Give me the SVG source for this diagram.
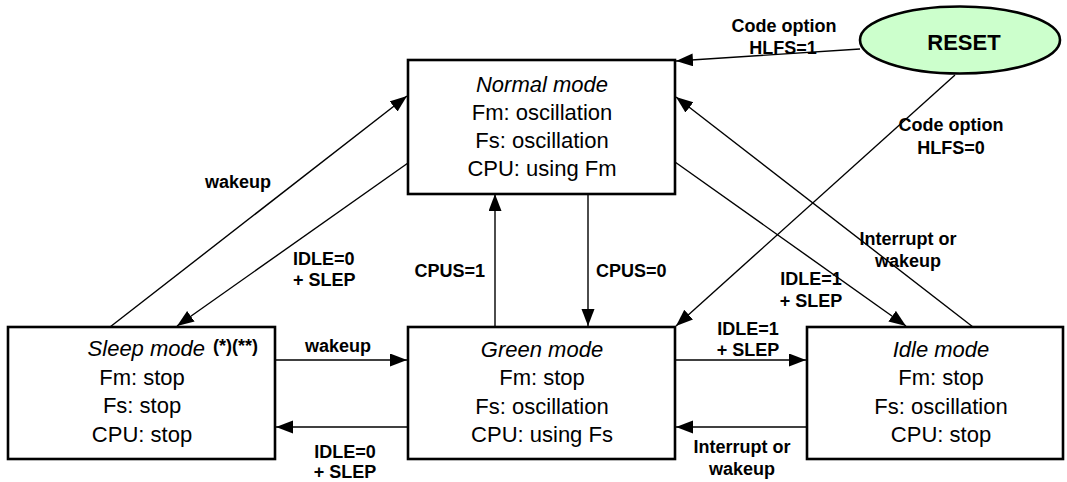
<svg xmlns="http://www.w3.org/2000/svg" width="1067" height="482" viewBox="0 0 1067 482">
<style>
  .box { fill: #ffffff; stroke: #000000; stroke-width: 2.6; }
  .title { font-family: "Liberation Sans", Arial, sans-serif; font-size: 22px; font-style: italic; text-anchor: middle; fill: #000; }
  .body { font-family: "Liberation Sans", Arial, sans-serif; font-size: 22px; text-anchor: middle; fill: #000; }
  .lbl { font-family: "Liberation Sans", Arial, sans-serif; font-size: 18px; font-weight: bold; fill: #000; }
  .mid { text-anchor: middle; }
  .conn { stroke: #000; stroke-width: 1.4; fill: none; marker-end: url(#arr); }
</style>
<defs>
  <marker id="arr" markerUnits="userSpaceOnUse" markerWidth="18" markerHeight="14" refX="17" refY="6.5" orient="auto">
    <path d="M0,0 L17,6.5 L0,13 z" fill="#000"/>
  </marker>
</defs>
<rect width="1067" height="482" fill="#ffffff"/>

<g id="connectors">
  <line class="conn" x1="860" y1="49" x2="676" y2="61"/>
  <line class="conn" x1="955" y1="75" x2="676" y2="326"/>
  <line class="conn" x1="973" y1="327" x2="676" y2="97"/>
  <line class="conn" x1="675" y1="162" x2="906" y2="326"/>
  <line class="conn" x1="588" y1="194" x2="588" y2="326"/>
  <line class="conn" x1="495" y1="327" x2="495" y2="194"/>
  <line class="conn" x1="110" y1="327" x2="407" y2="96"/>
  <line class="conn" x1="408" y1="163" x2="177" y2="326"/>
  <line class="conn" x1="275" y1="360" x2="407" y2="360"/>
  <line class="conn" x1="408" y1="427" x2="276" y2="427"/>
  <line class="conn" x1="675" y1="360" x2="806" y2="360"/>
  <line class="conn" x1="807" y1="427" x2="676" y2="427"/>
</g>

<g id="labels">
  <text class="lbl mid" x="784" y="32">Code option</text>
  <text class="lbl mid" x="783" y="54">HLFS=1</text>
  <text class="lbl mid" x="951" y="131">Code option</text>
  <text class="lbl mid" x="951" y="154">HLFS=0</text>
  <text class="lbl mid" x="238" y="188">wakeup</text>
  <text class="lbl" x="293" y="265">IDLE=0</text>
  <text class="lbl" x="293" y="286">+ SLEP</text>
  <text class="lbl" x="485" y="277" text-anchor="end">CPUS=1</text>
  <text class="lbl" x="596" y="277">CPUS=0</text>
  <text class="lbl mid" x="908" y="245">Interrupt or</text>
  <text class="lbl mid" x="908" y="267">wakeup</text>
  <text class="lbl mid" x="811" y="285">IDLE=1</text>
  <text class="lbl mid" x="811" y="307">+ SLEP</text>
  <text class="lbl mid" x="338" y="352">wakeup</text>
  <text class="lbl mid" x="345" y="458">IDLE=0</text>
  <text class="lbl mid" x="345" y="478">+ SLEP</text>
  <text class="lbl mid" x="748" y="335">IDLE=1</text>
  <text class="lbl mid" x="748" y="356">+ SLEP</text>
  <text class="lbl mid" x="742" y="453">Interrupt or</text>
  <text class="lbl mid" x="742" y="475">wakeup</text>
</g>

<g id="reset">
  <ellipse cx="960" cy="40" rx="100" ry="33.5" fill="#ccffcc" stroke="#000" stroke-width="2.6"/>
  <text x="964" y="50" font-family="Liberation Sans, Arial, sans-serif" font-size="22" font-weight="bold" text-anchor="middle">RESET</text>
</g>

<g id="normal">
  <rect class="box" x="408" y="60" width="267" height="134"/>
  <text class="title" x="542" y="92">Normal mode</text>
  <text class="body" x="542" y="120">Fm: oscillation</text>
  <text class="body" x="542" y="148">Fs: oscillation</text>
  <text class="body" x="542" y="176">CPU: using Fm</text>
</g>

<g id="sleep">
  <rect class="box" x="8" y="327" width="267" height="132"/>
  <text class="title" x="205" y="356" style="text-anchor:end">Sleep mode</text>
  <text x="213" y="352" font-family="Liberation Sans, Arial, sans-serif" font-size="18" font-weight="bold">(*)(**)</text>
  <text class="body" x="142" y="385">Fm: stop</text>
  <text class="body" x="142" y="413">Fs: stop</text>
  <text class="body" x="142" y="442">CPU: stop</text>
</g>

<g id="green">
  <rect class="box" x="408" y="327" width="267" height="132"/>
  <text class="title" x="542" y="357">Green mode</text>
  <text class="body" x="542" y="385">Fm: stop</text>
  <text class="body" x="542" y="414">Fs: oscillation</text>
  <text class="body" x="542" y="442">CPU: using Fs</text>
</g>

<g id="idle">
  <rect class="box" x="807" y="327" width="256" height="132"/>
  <text class="title" x="941" y="357">Idle mode</text>
  <text class="body" x="941" y="385">Fm: stop</text>
  <text class="body" x="941" y="414">Fs: oscillation</text>
  <text class="body" x="941" y="442">CPU: stop</text>
</g>
</svg>
